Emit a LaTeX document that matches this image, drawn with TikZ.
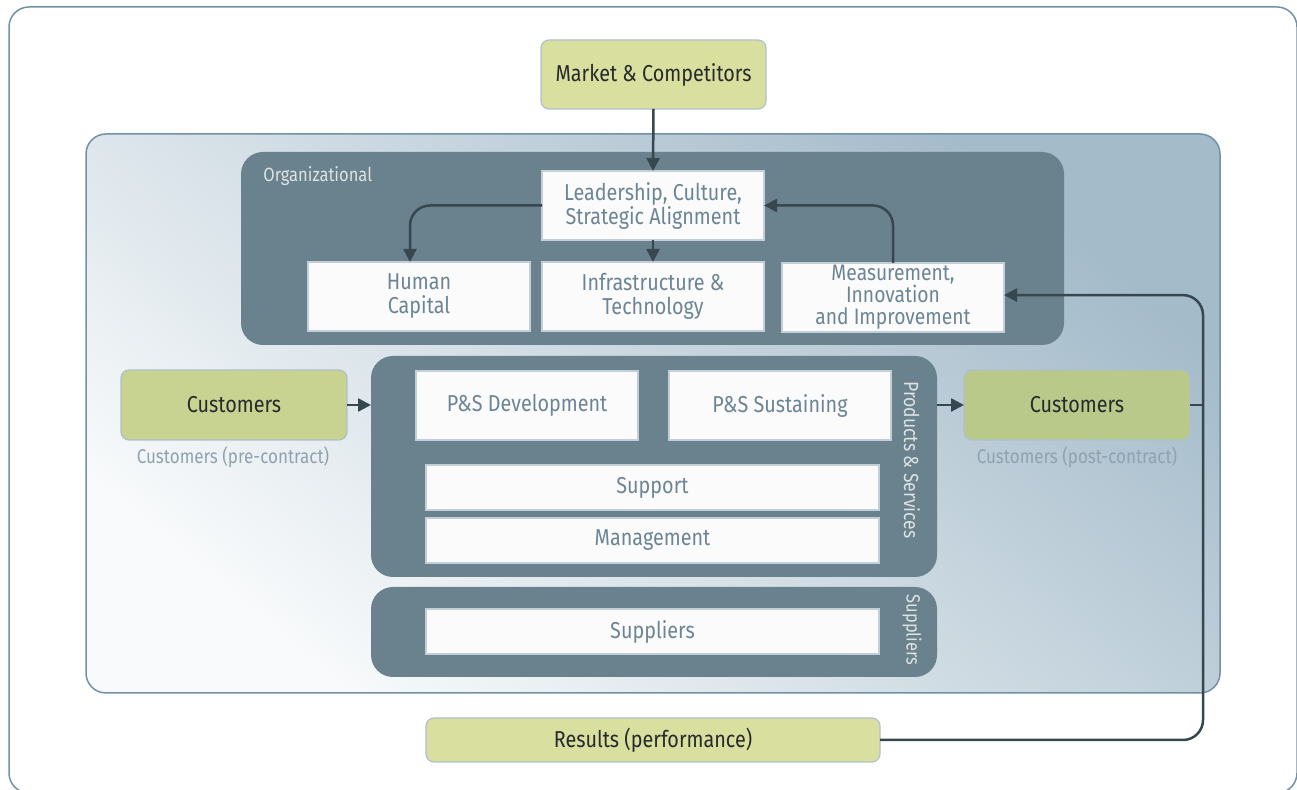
\documentclass[tikz,border=0pt]{standalone}
\usepackage{fontspec}
\setmainfont{Fira Sans}[FakeStretch=0.86]
\usetikzlibrary{arrows.meta,calc}
\definecolor{panelc}{HTML}{6A828D}
\definecolor{frame}{HTML}{7391A6}
\definecolor{wfill}{HTML}{FBFBFB}
\definecolor{wborder}{HTML}{C3CFD8}
\definecolor{wtext}{HTML}{6C8595}
\definecolor{gborder}{HTML}{AFC0CC}
\definecolor{gtext}{HTML}{262A2B}
\definecolor{gA}{HTML}{D9DF9F}
\definecolor{gB}{HTML}{C8D392}
\definecolor{gC}{HTML}{B9C98A}
\definecolor{arrowc}{HTML}{37474F}
\definecolor{captext}{HTML}{8FA2AF}
\definecolor{lbltext}{HTML}{DCE3E7}
\definecolor{shdark}{HTML}{A4BBCA}
\definecolor{shlight}{HTML}{F8FAFB}
\newcommand{\tightlines}{\lineskiplimit=-20pt\relax}
\begin{document}
\begin{tikzpicture}[x=0.5pt,y=-0.5pt,
  wbox/.style={draw=wborder, line width=0.6pt, fill=wfill, text=wtext, inner sep=0pt, outer sep=0pt,
    align=center, minimum width=111pt, minimum height=34.5pt, font=\fontsize{11.5}{12}\selectfont},
  widebox/.style={wbox, minimum width=226.5pt, minimum height=22.5pt},
  gbox/.style={draw=gborder, line width=0.6pt, rounded corners=4pt, text=gtext, inner sep=0pt, outer sep=0pt,
    align=center, minimum width=113pt, minimum height=35pt, font=\fontsize{11.5}{12}\selectfont},
  panelbox/.style={fill=panelc, rounded corners=11pt, inner sep=0pt, outer sep=0pt},
  arr/.style={draw=arrowc, line width=1.25pt, -{Triangle[length=6.5pt,width=6.5pt]}, rounded corners=10pt},
  plainline/.style={draw=arrowc, line width=1.25pt},
  caption/.style={text=captext, font=\fontsize{9.9}{11}\selectfont, inner sep=0pt},
  plabel/.style={text=lbltext, font=\fontsize{9.6}{10}\selectfont, inner sep=0pt}
]
\useasboundingbox (0,0) rectangle (1297,790);
% outer frame
\draw[frame, line width=0.75pt, rounded corners=10pt] (9,7) rectangle (1297,793);
% main shaded panel
\path[draw=frame, line width=0.75pt, rounded corners=10pt, top color=shdark, bottom color=shlight, shading angle=-40]
  (86,134) rectangle (1220,693);
% dark panels
\node[panelbox, minimum width=411.5pt, minimum height=96.5pt] (org) at (652.5,248.5) {};
\node[panelbox, minimum width=283pt, minimum height=110.5pt] (ps) at (654,466.5) {};
\node[panelbox, minimum width=283pt, minimum height=45pt] (sup) at (654,632) {};
\node[plabel, anchor=west] (orglbl) at (263,176) {Organizational};
\node[plabel, rotate=-90, font=\fontsize{10.2}{11}\selectfont] (pslbl) at (912,460) {Products \& Services};
\node[plabel, rotate=-90] (suplbl) at (912,630) {Suppliers};
% white boxes
\node[wbox] (lead) at (653,205.5) {Leadership, Culture,\\Strategic Alignment};
\node[wbox] (hum) at (419,296.5) {Human\\Capital};
\node[wbox] (inf) at (653,296.5) {Infrastructure \&\\Technology};
\node[wbox, font={\fontsize{11.2}{11}\selectfont\tightlines}] (meas) at (893,297.5) {Measurement,\\Innovation\\and Improvement};
\node[wbox] (dev) at (527,405.5) {P\&S Development};
\node[wbox] (sus) at (780,405.5) {P\&S Sustaining};
\node[widebox] (supp) at (652.5,487.5) {Support};
\node[widebox] (mgmt) at (652.5,540.5) {Management};
\node[widebox] (supl) at (652.5,631.5) {Suppliers};
% green boxes
\node[gbox, fill=gA, minimum width=112.5pt, minimum height=34.5pt] (mkt) at (653.5,74.5) {Market \& Competitors};
\node[gbox, fill=gB] (custL) at (234,405) {Customers};
\node[gbox, fill=gC] (custR) at (1077,405) {Customers};
\node[gbox, fill=gA, minimum width=227pt, minimum height=22pt] (res) at (653,740) {Results (performance)};
\node[caption] (capL) at (233,457) {Customers (pre-contract)};
\node[caption] (capR) at (1077,457) {Customers (post-contract)};
% connectors
\coordinate (fb) at (1203,500);
\draw[arr] (mkt.south) -- (lead.north);
\draw[arr] (lead.west) -| ([xshift=-4.5pt]hum.north);
\draw[arr] (lead.south) -- (inf.north);
\draw[arr] (meas.north) |- (lead.east);
\draw[arr] (res.east) -| (fb) |- ([yshift=1.2pt]meas.east);
\draw[plainline] (custR.east) -- (custR.east -| fb);
\draw[arr] (custL.east) -- (custL.east -| ps.west);
\draw[arr] (ps.east |- custR.west) -- (custR.west);
\end{tikzpicture}
\end{document}
